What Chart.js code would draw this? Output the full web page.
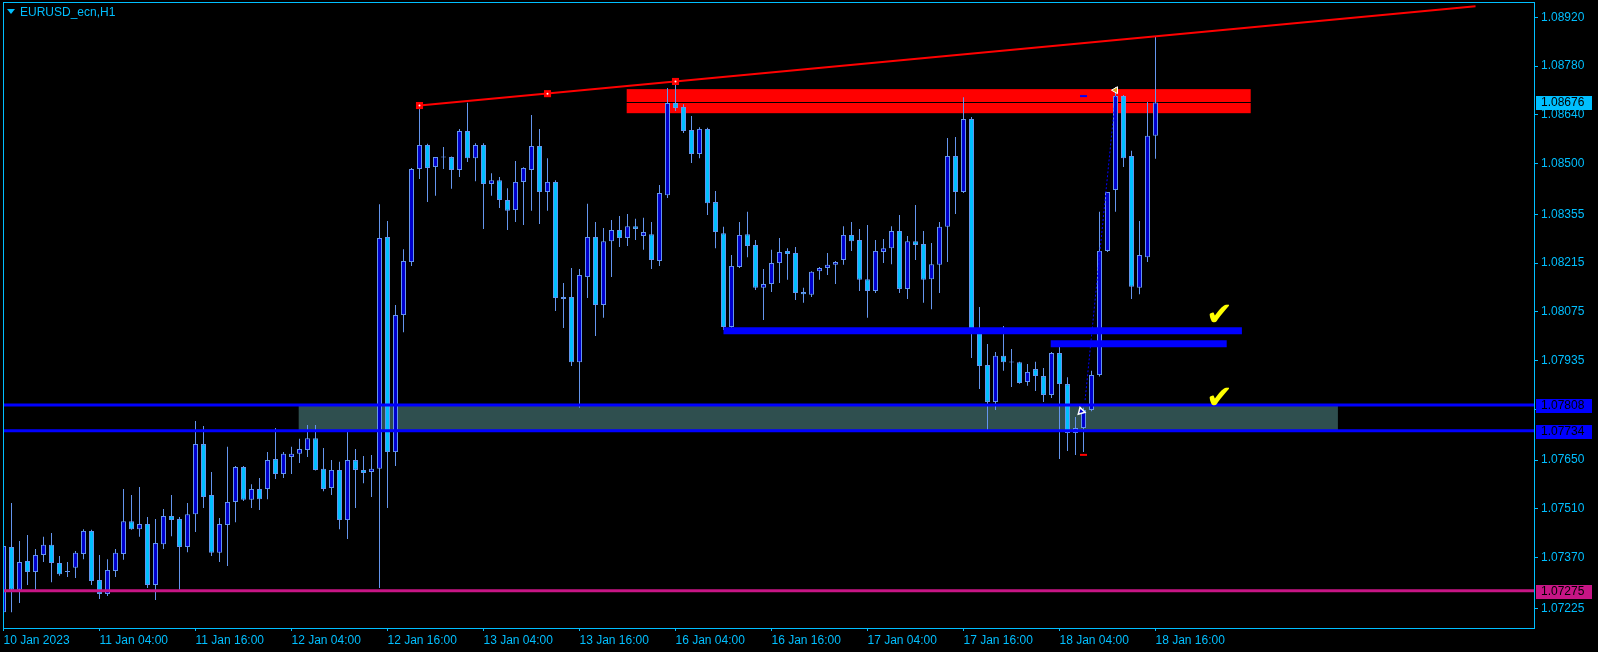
<!DOCTYPE html>
<html lang="en">
<head>
<meta charset="UTF-8">
<title>EURUSD_ecn,H1</title>
<script src="https://cdn.jsdelivr.net/npm/chart.js"></script>
<style>
    html, body { margin: 0; padding: 0; background: #000; overflow: hidden; }
    #wrap { position: relative; width: 1598px; height: 652px; }
    canvas { display: block; }
    #symbol {
        position: absolute; left: 7px; top: 5px;
        color: #00BFFF; font: 12px "Liberation Sans", Arial, sans-serif;
    }
    #symbol .tri {
        display: inline-block; width: 0; height: 0; margin-right: 5px; vertical-align: 2px;
        border-left: 4px solid transparent; border-right: 4px solid transparent; border-top: 5px solid #00BFFF;
    }
</style>
</head>
<body>
<div id="wrap">
    <canvas id="grafico" width="1598" height="652"></canvas>
    <div id="symbol"><span class="tri"></span>EURUSD_ecn,H1</div>
</div>
<script>
// H1 candles, 10 Jan 16:00 .. 18 Jan 16:00 (bar index 0..144)
var openPrices = [
    1.07214,1.07401,1.07278,1.07361,1.07329,1.07378,1.07407,1.07355,1.07332,1.07341,
    1.07381,1.07447,1.07306,1.07266,1.07332,1.07381,1.07475,1.07452,1.07467,1.07292,
    1.07409,1.07490,1.07481,1.07401,1.07495,1.07696,1.07550,1.07384,1.07464,1.07530,
    1.07630,1.07536,1.07567,1.07567,1.07653,1.07610,1.07659,1.07668,1.07679,1.07713,
    1.07625,1.07570,1.07622,1.07478,1.07650,1.07622,1.07616,1.07625,1.08290,1.07673,
    1.08066,1.08218,1.08485,1.08554,1.08491,1.08519,1.08519,1.08482,1.08594,1.08516,
    1.08554,1.08442,1.08453,1.08396,1.08367,1.08448,1.08482,1.08551,1.08419,1.08448,
    1.08118,1.08118,1.07931,1.08175,1.08290,1.08095,1.08278,1.08310,1.08287,1.08321,
    1.08293,1.08298,1.08221,1.08410,1.08674,1.08663,1.08597,1.08528,1.08600,1.08390,
    1.08301,1.08032,1.08204,1.08298,1.08267,1.08144,1.08155,1.08215,1.08250,1.08244,
    1.08132,1.08124,1.08192,1.08201,1.08210,1.08224,1.08296,1.08281,1.08169,1.08135,
    1.08247,1.08258,1.08307,1.08141,1.08278,1.08270,1.08169,1.08210,1.08319,1.08522,
    1.08419,1.08628,1.08015,1.07923,1.07817,1.07949,1.07931,1.07931,1.07874,1.07911,
    1.07891,1.07837,1.07957,1.07868,1.07728,1.07742,1.07794,1.07894,1.08250,1.08425,
    1.08694,1.08522,1.08144,1.08232,1.08580
];
var highPrices = [
    1.07590,1.07527,1.07418,1.07435,1.07395,1.07430,1.07441,1.07375,1.07358,1.07389,
    1.07452,1.07450,1.07378,1.07366,1.07395,1.07567,1.07550,1.07573,1.07487,1.07481,
    1.07510,1.07550,1.07487,1.07527,1.07762,1.07748,1.07616,1.07484,1.07688,1.07633,
    1.07633,1.07581,1.07599,1.07673,1.07742,1.07673,1.07688,1.07711,1.07751,1.07751,
    1.07685,1.07650,1.07645,1.07731,1.07682,1.07662,1.07665,1.08384,1.08336,1.08095,
    1.08255,1.08488,1.08667,1.08557,1.08519,1.08548,1.08521,1.08600,1.08675,1.08559,
    1.08559,1.08473,1.08462,1.08430,1.08508,1.08490,1.08640,1.08600,1.08516,1.08453,
    1.08158,1.08201,1.08198,1.08385,1.08333,1.08316,1.08339,1.08350,1.08356,1.08342,
    1.08345,1.08333,1.08439,1.08717,1.08736,1.08671,1.08637,1.08605,1.08603,1.08422,
    1.08319,1.08238,1.08333,1.08362,1.08281,1.08198,1.08253,1.08287,1.08258,1.08261,
    1.08144,1.08192,1.08204,1.08244,1.08221,1.08321,1.08333,1.08313,1.08324,1.08281,
    1.08284,1.08321,1.08353,1.08293,1.08382,1.08307,1.08273,1.08333,1.08574,1.08577,
    1.08691,1.08634,1.08089,1.07983,1.07960,1.08035,1.07969,1.07932,1.07926,1.07932,
    1.07914,1.07960,1.07989,1.07888,1.07774,1.07800,1.07906,1.08362,1.08419,1.08720,
    1.08697,1.08537,1.08336,1.08677,1.08866
];
var lowPrices = [
    1.07210,1.07214,1.07240,1.07292,1.07278,1.07358,1.07300,1.07318,1.07315,1.07312,
    1.07366,1.07292,1.07252,1.07260,1.07315,1.07364,1.07450,1.07430,1.07283,1.07249,
    1.07395,1.07432,1.07278,1.07386,1.07444,1.07513,1.07375,1.07358,1.07346,1.07472,
    1.07533,1.07513,1.07507,1.07538,1.07596,1.07599,1.07610,1.07642,1.07659,1.07620,
    1.07561,1.07550,1.07452,1.07424,1.07513,1.07584,1.07544,1.07283,1.07513,1.07633,
    1.08017,1.08207,1.08456,1.08390,1.08408,1.08485,1.08428,1.08462,1.08505,1.08450,
    1.08313,1.08408,1.08373,1.08310,1.08333,1.08324,1.08365,1.08327,1.08365,1.08078,
    1.08029,1.07920,1.07800,1.08115,1.08006,1.08058,1.08175,1.08261,1.08264,1.08281,
    1.08253,1.08198,1.08207,1.08402,1.08651,1.08588,1.08502,1.08516,1.08353,1.08258,
    1.08023,1.08023,1.08201,1.08232,1.08138,1.08052,1.08132,1.08158,1.08167,1.08109,
    1.08101,1.08118,1.08167,1.08181,1.08155,1.08210,1.08250,1.08135,1.08058,1.08129,
    1.08215,1.08212,1.08129,1.08112,1.08224,1.08101,1.08083,1.08129,1.08218,1.08356,
    1.08416,1.07943,1.07854,1.07736,1.07794,1.07906,1.07860,1.07869,1.07863,1.07848,
    1.07817,1.07828,1.07653,1.07676,1.07665,1.07673,1.07790,1.07890,1.08247,1.08362,
    1.08491,1.08112,1.08126,1.08218,1.08514
];
var closePrices = [
    1.07404,1.07278,1.07358,1.07329,1.07378,1.07407,1.07355,1.07323,1.07329,1.07384,
    1.07447,1.07303,1.07266,1.07335,1.07384,1.07475,1.07452,1.07467,1.07292,1.07412,
    1.07490,1.07478,1.07401,1.07495,1.07696,1.07544,1.07384,1.07467,1.07530,1.07630,
    1.07536,1.07567,1.07538,1.07650,1.07610,1.07668,1.07668,1.07682,1.07713,1.07622,
    1.07567,1.07622,1.07478,1.07650,1.07622,1.07613,1.07625,1.08287,1.07673,1.08066,
    1.08221,1.08485,1.08554,1.08488,1.08519,1.08518,1.08482,1.08594,1.08516,1.08554,
    1.08442,1.08453,1.08396,1.08365,1.08448,1.08488,1.08551,1.08419,1.08448,1.08115,
    1.08112,1.07931,1.08181,1.08290,1.08095,1.08278,1.08310,1.08287,1.08321,1.08313,
    1.08304,1.08224,1.08416,1.08674,1.08660,1.08594,1.08528,1.08600,1.08387,1.08304,
    1.08032,1.08207,1.08296,1.08264,1.08144,1.08155,1.08215,1.08247,1.08241,1.08129,
    1.08126,1.08190,1.08201,1.08210,1.08218,1.08296,1.08278,1.08167,1.08135,1.08250,
    1.08258,1.08307,1.08141,1.08278,1.08267,1.08167,1.08212,1.08319,1.08522,1.08419,
    1.08628,1.08015,1.07920,1.07817,1.07949,1.07931,1.07930,1.07871,1.07903,1.07891,
    1.07837,1.07957,1.07868,1.07728,1.07742,1.07794,1.07894,1.08250,1.08419,1.08694,
    1.08516,1.08147,1.08238,1.08580,1.08676
];

var timeLabels = ['10 Jan 2023', '11 Jan 04:00', '11 Jan 16:00', '12 Jan 04:00', '12 Jan 16:00',
    '13 Jan 04:00', '13 Jan 16:00', '16 Jan 04:00', '16 Jan 16:00', '17 Jan 04:00',
    '17 Jan 16:00', '18 Jan 04:00', '18 Jan 16:00'];
var timeLabelBars = [0, 12, 24, 36, 48, 60, 72, 84, 96, 108, 120, 132, 144];
var priceTicks = [1.08920, 1.08780, 1.08640, 1.08500, 1.08355, 1.08215, 1.08075,
    1.07935, 1.07795, 1.07650, 1.07510, 1.07370, 1.07225];

// objects drawn on the chart (bar index / price)
var bidPrice = 1.08676;
var zoneLevels = [1.07808, 1.07734];
var lowLevel = 1.07275;
var trendBars = [52, 68, 84];
var trendPrices = [1.08667, 1.08701, 1.08736];
var trendEnd = [184, 1.08952];
var supportPrices = [1.08021, 1.07984];
var supportFrom = [90, 130.9];
var supportTo = [154.8, 152.9];
var grayZone = [36.9, 166.8, 1.07808, 1.07734];
var redZone = [77.9, 155.9, 1.08714, 1.08645];
var checkBars = [152, 152];
var checkPrices = [1.08060, 1.07822];
var moveBars = [135.2, 139];
var movePrices = [1.07822, 1.08695];

var axisColor = '#00BFFF';
var fontFam = '"Liberation Sans", Arial, sans-serif';

var barIdx = openPrices.map(function (o, i) { return i; });
var wicks = barIdx.map(function (i) { return { x: i, y: [lowPrices[i], highPrices[i]] }; });
var bodies = barIdx.map(function (i) { return { x: i, y: [openPrices[i], closePrices[i]] }; });
var bodyColors = barIdx.map(function (i) { return closePrices[i] > openPrices[i] ? '#0000CD' : '#00BFFF'; });

function levelLine(p, color, width, order) {
    return { type: 'line', data: [{ x: -5, y: p }, { x: 250, y: p }], borderColor: color,
        borderWidth: width, pointRadius: 0, order: order };
}

var datasets = [
    levelLine(zoneLevels[0], '#0000FF', 3, 0),
    levelLine(zoneLevels[1], '#0000FF', 3, 0),
    levelLine(lowLevel, '#C71585', 3, 0),
    { type: 'line', data: [{ x: trendBars[0], y: trendPrices[0] }, { x: trendEnd[0], y: trendEnd[1] }],
      borderColor: '#FF0000', borderWidth: 2, pointRadius: 0, order: 0 },
    { type: 'line', data: trendBars.map(function (b, k) { return { x: b, y: trendPrices[k] }; }),
      showLine: false, pointStyle: 'rect', pointRadius: 5, backgroundColor: '#FF0000',
      borderWidth: 0, order: 0 },
    { type: 'line', data: trendBars.map(function (b, k) { return { x: b, y: trendPrices[k] }; }),
      showLine: false, pointRadius: 1, backgroundColor: '#FFFFFF', borderWidth: 0, order: -1 },
    { type: 'line', data: [{ x: supportFrom[0], y: supportPrices[0] }, { x: supportTo[0], y: supportPrices[0] }],
      borderColor: '#0000FF', borderWidth: 7, pointRadius: 0, order: 0 },
    { type: 'line', data: [{ x: supportFrom[1], y: supportPrices[1] }, { x: supportTo[1], y: supportPrices[1] }],
      borderColor: '#0000FF', borderWidth: 7, pointRadius: 0, order: 0 },
    { type: 'line', data: [{ x: moveBars[0], y: movePrices[0] }, { x: moveBars[1], y: movePrices[1] }],
      borderColor: '#0000FF', borderWidth: 1, borderDash: [2, 2], pointRadius: 0, order: 0 },
    { type: 'line', data: [{ x: 139, y: 1.08711 }], showLine: false, pointStyle: 'triangle',
      rotation: 270, pointRadius: 4, backgroundColor: '#DAA520', borderColor: '#FFFFFF', borderWidth: 1, order: -1 },
    { type: 'line', data: [{ x: 134.7, y: 1.07790 }], showLine: false, pointStyle: 'triangle',
      rotation: 225, pointRadius: 4, backgroundColor: '#0000CD', borderColor: '#FFFFFF', borderWidth: 1.5, order: -1 },
    { type: 'line', data: [{ x: 135, y: 1.08694 }], showLine: false, pointStyle: 'line',
      pointRadius: 3.5, borderColor: '#0000FF', borderWidth: 2, order: -1 },
    { type: 'line', data: [{ x: 135, y: 1.07665 }], showLine: false, pointStyle: 'line',
      pointRadius: 3.5, borderColor: '#FF0000', borderWidth: 2, order: -1 },
    { type: 'bar', data: bodies, backgroundColor: bodyColors, borderColor: '#6495ED', borderWidth: 1,
      borderSkipped: false, grouped: false, maxBarThickness: 5, minBarLength: 1, inflateAmount: 0, order: 1 },
    { type: 'bar', data: wicks, backgroundColor: '#6495ED', borderWidth: 0, grouped: false,
      maxBarThickness: 1, inflateAmount: 0, order: 2 }
];

var marcas = {
    id: 'marcas',
    beforeDatasetsDraw: function (chart) {
        var ctx = chart.ctx, a = chart.chartArea, x = chart.scales.x, y = chart.scales.y;
        ctx.save();
        ctx.beginPath();
        ctx.rect(a.left, a.top, a.right - a.left, a.bottom - a.top);
        ctx.clip();
        [[grayZone, '#2F4F4F'], [redZone, '#FF0000']].forEach(function (z) {
            var r = z[0];
            var x0 = x.getPixelForValue(r[0]), x1 = x.getPixelForValue(r[1]);
            var y0 = y.getPixelForValue(r[2]), y1 = y.getPixelForValue(r[3]);
            ctx.fillStyle = z[1];
            ctx.fillRect(x0, y0, x1 - x0, y1 - y0);
        });
        var yb = Math.round(y.getPixelForValue(bidPrice)) + 0.5;
        ctx.strokeStyle = '#000000';
        ctx.lineWidth = 1;
        ctx.beginPath();
        ctx.moveTo(a.left, yb);
        ctx.lineTo(a.right, yb);
        ctx.stroke();
        ctx.restore();
    },
    afterDatasetsDraw: function (chart) {
        var ctx = chart.ctx, x = chart.scales.x, y = chart.scales.y;
        ctx.save();
        ctx.fillStyle = '#FFFF00';
        ctx.font = '32px "DejaVu Sans", sans-serif';
        ctx.textAlign = 'center';
        ctx.textBaseline = 'middle';
        checkBars.forEach(function (b, k) {
            var px = x.getPixelForValue(b), py = y.getPixelForValue(checkPrices[k]);
            ctx.fillText('\u2714', px, py);
        });
        ctx.restore();
    },
    afterDraw: function (chart) {
        var ctx = chart.ctx, a = chart.chartArea, y = chart.scales.y;
        ctx.save();
        ctx.strokeStyle = axisColor;
        ctx.lineWidth = 1;
        ctx.strokeRect(a.left + 0.5, a.top + 0.5, a.right - a.left - 1, a.bottom - a.top);
        var tags = [[bidPrice, '#00BFFF'], [zoneLevels[0], '#0000FF'], [zoneLevels[1], '#0000FF'], [lowLevel, '#C71585']];
        ctx.font = '12px ' + fontFam;
        ctx.textBaseline = 'middle';
        ctx.textAlign = 'left';
        tags.forEach(function (t) {
            var py = Math.round(y.getPixelForValue(t[0]));
            ctx.fillStyle = t[1];
            ctx.fillRect(a.right + 1, py - 6, 56, 14);
            ctx.fillStyle = '#000000';
            ctx.fillText(t[0].toFixed(5), a.right + 6, py + 1);
        });
        ctx.restore();
    }
};

var ctx = document.getElementById('grafico').getContext('2d');
var grafico = new Chart(ctx, {
    type: 'bar',
    data: { datasets: datasets },
    plugins: [marcas],
    options: {
        responsive: false,
        animation: false,
        events: [],
        layout: { autoPadding: false, padding: { left: 3, top: 2, right: 0, bottom: 0 } },
        plugins: { legend: { display: false }, tooltip: { enabled: false } },
        scales: {
            x: {
                type: 'linear', min: -0.0625, max: 191.4375, offset: false,
                grid: { display: true, offset: false, drawOnChartArea: false, drawTicks: true,
                        tickLength: 3, tickColor: axisColor, color: axisColor },
                border: { display: false },
                ticks: {
                    color: axisColor, font: { family: fontFam, size: 12 }, align: 'start',
                    maxRotation: 0, minRotation: 0, autoSkip: false, padding: 2,
                    callback: function (v) { return timeLabels[timeLabelBars.indexOf(v)]; }
                },
                afterBuildTicks: function (s) { s.ticks = timeLabelBars.map(function (v) { return { value: v }; }); },
                afterFit: function (s) { s.height = 24; s.paddingLeft = 0; s.paddingRight = 0; }
            },
            y: {
                type: 'linear', position: 'right', min: 1.071685, max: 1.089639,
                grid: { display: true, drawOnChartArea: false, drawTicks: true,
                        tickLength: 3, tickColor: axisColor, color: axisColor },
                border: { display: false },
                ticks: {
                    color: axisColor, font: { family: fontFam, size: 12 }, padding: 3,
                    callback: function (v) { return v.toFixed(5); }
                },
                afterBuildTicks: function (s) { s.ticks = priceTicks.map(function (v) { return { value: v }; }); },
                afterFit: function (s) { s.width = 63; s.paddingTop = 0; s.paddingBottom = 0; }
            }
        }
    }
});
</script>
</body>
</html>
